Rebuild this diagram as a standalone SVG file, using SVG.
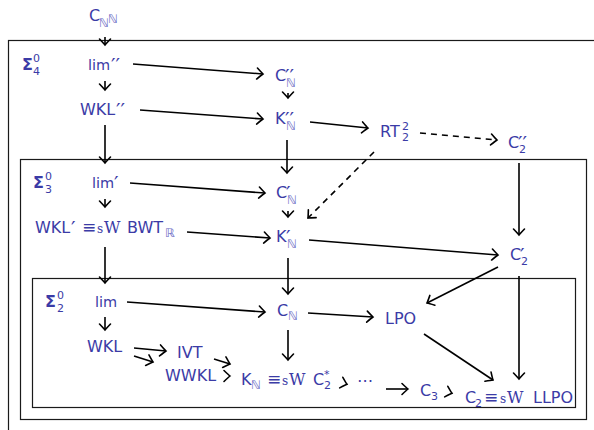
<svg xmlns="http://www.w3.org/2000/svg" width="594" height="430" viewBox="0 0 594 430">
  <style>
    text { font-family: "DejaVu Sans", sans-serif; font-size: 16px; fill: #3b3ba6; }
    .lc { font-size: 14.5px; }
    .sc { font-size: 11px; }
    .bb { font-size: 12px; fill: #6b6bc4; }
    .pr { font-size: 20px; }
    .eq { font-size: 17px; }
    .rm { font-family: "DejaVu Serif", "Liberation Serif", serif; }
    .sg { font-weight: bold; }
    .box { fill: none; stroke: #1a1a1a; stroke-width: 1.2; }
    .ar { fill: none; stroke: #000; stroke-width: 1.6; marker-end: url(#to); }
    .da { stroke-dasharray: 6 5; }
  </style>
  <defs>
    <marker id="to" markerUnits="userSpaceOnUse" viewBox="-8 -7 10 14" markerWidth="10" markerHeight="14" refX="0" refY="0" orient="auto" overflow="visible">
      <path d="M -6,-5.5 Q -1.5,-1.2 0,0 Q -1.5,1.2 -6,5.5" fill="none" stroke="#000" stroke-width="1.6" stroke-linecap="round"/>
    </marker>
  </defs>

  <!-- nested hierarchy boxes -->
  <g id="boxes">
    <rect class="box" x="8.5" y="40.5" width="600" height="400"/>
    <rect class="box" x="20.5" y="159.5" width="566" height="260"/>
    <rect class="box" x="32.5" y="278.5" width="543" height="129"/>
  </g>

  <!-- level labels -->
  <g id="sigma4">
    <text x="22" y="70"><tspan class="sg">Σ</tspan><tspan class="sc" x="33" y="62">0</tspan><tspan class="sc" x="33" y="75">4</tspan></text>
  </g>
  <g id="sigma3">
    <text x="33" y="188"><tspan class="sg">Σ</tspan><tspan class="sc" x="45" y="180">0</tspan><tspan class="sc" x="45" y="193">3</tspan></text>
  </g>
  <g id="sigma2">
    <text x="45" y="307"><tspan class="sg">Σ</tspan><tspan class="sc" x="57" y="299">0</tspan><tspan class="sc" x="57" y="312">2</tspan></text>
  </g>

  <!-- nodes -->
  <g id="CNN">
    <text x="89" y="21">C<tspan class="bb" x="99" y="27">ℕ</tspan><tspan class="bb" x="108" y="23">ℕ</tspan></text>
  </g>
  <g id="lim2"><text x="88" y="70"><tspan class="lc">lim</tspan><tspan class="pr" x="111" y="72">′′</tspan></text></g>
  <g id="WKL2"><text x="80" y="115">WKL<tspan class="pr" x="116" y="117">′′</tspan></text></g>
  <g id="CN2">
    <text x="275" y="81">C<tspan class="pr" x="285" y="83">′′</tspan><tspan class="bb" x="286" y="87">ℕ</tspan></text>
  </g>
  <g id="KN2">
    <text x="275" y="124">K<tspan class="pr" x="285" y="126">′′</tspan><tspan class="bb" x="286" y="130">ℕ</tspan></text>
  </g>
  <g id="RT22">
    <text x="380" y="137">RT<tspan class="sc" x="402" y="130">2</tspan><tspan class="sc" x="402" y="141">2</tspan></text>
  </g>
  <g id="C22">
    <text x="508" y="148">C<tspan class="pr" x="518" y="150">′′</tspan><tspan class="sc" x="519" y="153">2</tspan></text>
  </g>

  <g id="lim1"><text x="92" y="188"><tspan class="lc">lim</tspan><tspan class="pr" x="114" y="190">′</tspan></text></g>
  <g id="WKL1">
    <text x="35" y="233">WKL<tspan class="pr" x="71" y="235">′</tspan><tspan class="eq" x="82" y="233">≡</tspan><tspan class="rm" x="97" y="233" font-size="12">s</tspan><tspan class="rm" x="104" y="233">W</tspan><tspan x="127" y="233">BWT</tspan><tspan class="bb" x="165" y="237">ℝ</tspan></text>
  </g>
  <g id="CN1">
    <text x="276" y="198">C<tspan class="pr" x="286" y="200">′</tspan><tspan class="bb" x="287" y="204">ℕ</tspan></text>
  </g>
  <g id="KN1">
    <text x="276" y="242">K<tspan class="pr" x="286" y="244">′</tspan><tspan class="bb" x="287" y="248">ℕ</tspan></text>
  </g>
  <g id="C21">
    <text x="510" y="260">C<tspan class="pr" x="520" y="262">′</tspan><tspan class="sc" x="521" y="265">2</tspan></text>
  </g>

  <g id="lim"><text class="lc" x="95" y="307">lim</text></g>
  <g id="CN">
    <text x="277" y="316">C<tspan class="bb" x="288" y="320">ℕ</tspan></text>
  </g>
  <g id="LPO"><text x="385" y="324">LPO</text></g>
  <g id="WKL"><text x="87" y="352">WKL</text></g>
  <g id="IVT"><text x="177" y="358">IVT</text></g>
  <g id="WWKL"><text x="165" y="381">WWKL</text></g>
  <g id="KN">
    <text x="241" y="385">K<tspan class="bb" x="251" y="389">ℕ</tspan><tspan class="eq" x="267" y="385">≡</tspan><tspan class="rm" x="282" y="385" font-size="12">s</tspan><tspan class="rm" x="289" y="385">W</tspan><tspan x="313" y="385">C</tspan><tspan class="sc" x="324" y="378">*</tspan><tspan class="sc" x="324" y="389">2</tspan></text>
  </g>
  <g id="dots"><text x="357" y="386">⋯</text></g>
  <g id="C3">
    <text x="420" y="396">C<tspan class="sc" x="431" y="400">3</tspan></text>
  </g>
  <g id="C2">
    <text x="465" y="403">C<tspan class="sc" x="475" y="407">2</tspan><tspan class="eq" x="484" y="403">≡</tspan><tspan class="rm" x="500" y="403" font-size="12">s</tspan><tspan class="rm" x="507" y="403">W</tspan><tspan x="533" y="403">LLPO</tspan></text>
  </g>

  <!-- connectors -->
  <g id="connectors">
    <line class="ar" x1="105" y1="37" x2="105" y2="45"/>
    <line class="ar" x1="105" y1="81" x2="105" y2="90"/>
    <line class="ar" x1="133" y1="64" x2="263" y2="74"/>
    <line class="ar" x1="140" y1="110" x2="263" y2="119"/>
    <line class="ar" x1="288" y1="93" x2="288" y2="98"/>
    <line class="ar" x1="310" y1="122" x2="368" y2="128"/>
    <line class="ar da" x1="420" y1="133" x2="497" y2="140"/>
    <line class="ar da" x1="374" y1="152" x2="308" y2="218"/>
    <line class="ar" x1="105" y1="125" x2="105" y2="163"/>
    <line class="ar" x1="287" y1="140" x2="287" y2="173"/>
    <line class="ar" x1="519" y1="163" x2="519" y2="235"/>
    <line class="ar" x1="130" y1="183" x2="265" y2="193"/>
    <line class="ar" x1="105" y1="199" x2="105" y2="207"/>
    <line class="ar" x1="288" y1="211" x2="288" y2="217"/>
    <line class="ar" x1="187" y1="232" x2="270" y2="238"/>
    <line class="ar" x1="309" y1="240" x2="498" y2="255"/>
    <line class="ar" x1="105" y1="247" x2="105" y2="283"/>
    <line class="ar" x1="288" y1="258" x2="288" y2="294"/>
    <line class="ar" x1="498" y1="267" x2="427" y2="303"/>
    <line class="ar" x1="519" y1="276" x2="519" y2="379"/>
    <line class="ar" x1="127" y1="302" x2="265" y2="312"/>
    <line class="ar" x1="288" y1="330" x2="288" y2="360"/>
    <line class="ar" x1="308" y1="313" x2="373" y2="317"/>
    <line class="ar" x1="105" y1="317" x2="105" y2="330"/>
    <line class="ar" x1="134" y1="348" x2="166" y2="351"/>
    <line class="ar" x1="134" y1="356" x2="153" y2="362"/>
    <line class="ar" x1="214" y1="359" x2="230" y2="364"/>
    <line class="ar" x1="229" y1="376" x2="230" y2="376"/>
    <line class="ar" x1="346" y1="384" x2="347" y2="384.3"/>
    <line class="ar" x1="386" y1="389" x2="408" y2="389"/>
    <line class="ar" x1="451" y1="393" x2="452" y2="393.3"/>
    <line class="ar" x1="424" y1="334" x2="493" y2="380"/>
  </g>
</svg>
